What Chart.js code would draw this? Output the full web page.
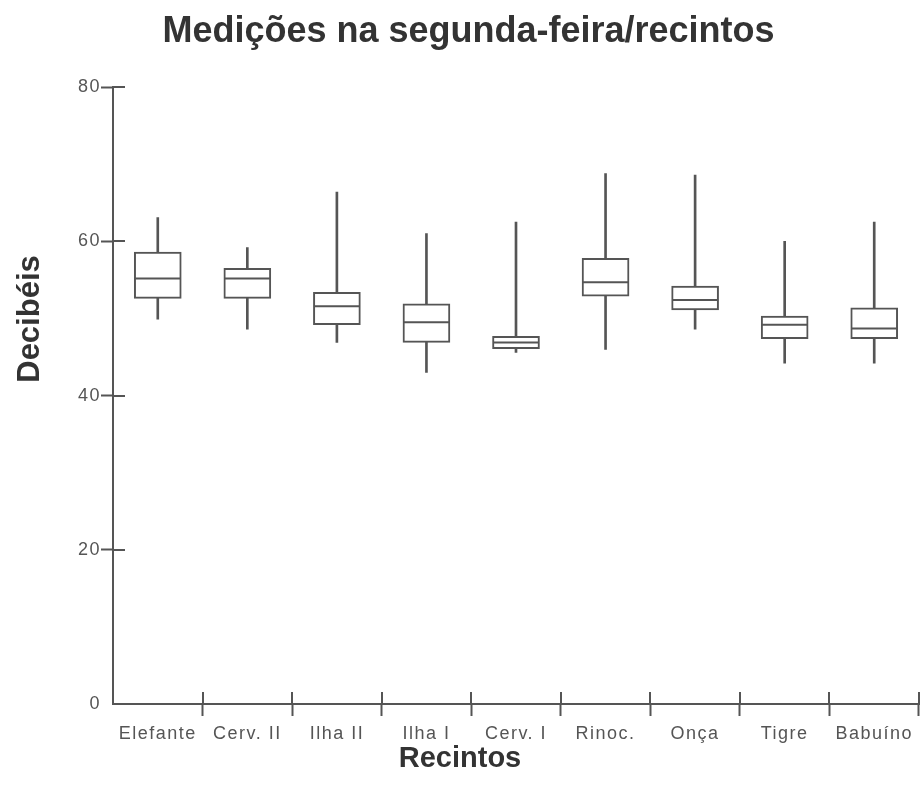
<!DOCTYPE html>
<html>
<head>
<meta charset="utf-8">
<script src="https://cdn.jsdelivr.net/npm/chart.js@4.4.1/dist/chart.umd.min.js"></script>
<style>
  html, body { margin: 0; padding: 0; background: #fff; }
  #wrap { width: 922px; height: 798px; position: relative; }
</style>
</head>
<body>
<div id="wrap"><canvas id="c" width="922" height="798"></canvas></div>
<script>
// ---- Data ----
const chartTitle = 'Medições na segunda-feira/recintos';
const xTitle = 'Recintos';
const yTitle = 'Decibéis';
const categories = ['Elefante', 'Cerv. II', 'Ilha II', 'Ilha I', 'Cerv. I', 'Rinoc.', 'Onça', 'Tigre', 'Babuíno'];
const minVals    = [49.9, 48.6, 46.9, 43.0, 45.6, 46.0, 48.6, 44.2, 44.2];
const q1Vals     = [52.6, 52.6, 49.2, 46.9, 46.1, 52.9, 51.1, 47.4, 47.4];
const medianVals = [55.2, 55.2, 51.6, 49.5, 46.9, 54.7, 52.4, 49.2, 48.7];
const q3Vals     = [58.6, 56.5, 53.4, 51.9, 47.7, 57.8, 54.2, 50.3, 51.4];
const maxVals    = [63.1, 59.2, 66.4, 61.0, 62.5, 68.8, 68.6, 60.0, 62.5];
const yTickValues = [0, 20, 40, 60, 80];

// ---- Styles ----
const LINE = '#555555';
const TEXT = '#333333';
const TICK_TEXT = '#555555';
const FONT = "'Liberation Sans', Arial, sans-serif";

const extrasPlugin = {
  id: 'extras',
  beforeDraw(chart) { chart.ctx.letterSpacing = '0px'; },
  afterDatasetsDraw(chart) { chart.ctx.letterSpacing = '1.5px'; },
  afterDraw(chart) {
    const ctx = chart.ctx;
    ctx.save();
    ctx.letterSpacing = '0px';
    const xs = chart.scales.x, ys = chart.scales.y, area = chart.chartArea;
    // inner halves of the crossing tick marks
    ctx.strokeStyle = LINE;
    ctx.lineWidth = 2;
    ctx.beginPath();
    ys.ticks.forEach(t => {
      if (t.value === 0) return;
      const py = Math.round(ys.getPixelForValue(t.value));
      ctx.moveTo(area.left, py);
      ctx.lineTo(area.left + 12, py);
    });
    for (let i = 1; i <= categories.length; i++) {
      const px = Math.round(xs.getPixelForValue(i - 0.5));
      ctx.moveTo(px, area.bottom);
      ctx.lineTo(px, area.bottom - 12);
    }
    ctx.stroke();
    // axis titles
    ctx.fillStyle = TEXT;
    ctx.textAlign = 'center';
    ctx.textBaseline = 'middle';
    ctx.font = "bold 29px " + FONT;
    ctx.fillText(xTitle, 460, 759);
    ctx.font = "bold 31px " + FONT;
    ctx.translate(30, 319);
    ctx.rotate(-Math.PI / 2);
    ctx.fillText(yTitle, 0, 0);
    ctx.restore();
    ctx.letterSpacing = '0px';
  }
};

new Chart(document.getElementById('c'), {
  type: 'bar',
  data: {
    labels: categories,
    datasets: [
      {
        label: 'whisker',
        data: categories.map((c, i) => [minVals[i], maxVals[i]]),
        backgroundColor: LINE,
        borderWidth: 0,
        barThickness: 2,
        grouped: false,
        order: 3
      },
      {
        label: 'box',
        data: categories.map((c, i) => [q1Vals[i], q3Vals[i]]),
        backgroundColor: '#ffffff',
        borderColor: LINE,
        borderWidth: 2,
        borderSkipped: false,
        barThickness: 47,
        grouped: false,
        order: 2
      },
      {
        type: 'line',
        label: 'median',
        data: medianVals,
        showLine: false,
        pointStyle: 'line',
        pointRadius: 23,
        pointBorderWidth: 2,
        pointBorderColor: LINE,
        pointBackgroundColor: LINE,
        order: 1
      }
    ]
  },
  options: {
    responsive: false,
    animation: false,
    events: [],
    layout: { autoPadding: false, padding: { left: 18, right: 3, top: 0, bottom: 0 } },
    plugins: {
      legend: { display: false },
      tooltip: { enabled: false },
      title: {
        display: true,
        text: chartTitle,
        color: TEXT,
        font: { family: FONT, size: 36, weight: 'bold', lineHeight: 1.2 },
        padding: { top: 10, bottom: 34 }
      }
    },
    scales: {
      x: {
        type: 'category',
        offset: true,
        afterFit(s) { s.height = 94; s.paddingLeft = 0; s.paddingRight = 0; },
        grid: {
          offset: true,
          drawOnChartArea: false,
          drawTicks: true,
          tickLength: 12,
          tickWidth: 2,
          tickColor: ctx => ctx.index === 0 ? 'rgba(0,0,0,0)' : LINE
        },
        border: { color: LINE, width: 2 },
        ticks: {
          z: 1,
          color: TICK_TEXT,
          font: { family: FONT, size: 18 },
          padding: 7,
          maxRotation: 0,
          autoSkip: false
        }
      },
      y: {
        min: 0,
        max: 80,
        afterFit(s) { s.width = 95; s.paddingTop = 0; s.paddingBottom = 0; },
        afterBuildTicks(s) { s.ticks = yTickValues.map(v => ({ value: v })); },
        grid: {
          drawOnChartArea: false,
          drawTicks: true,
          tickLength: 12,
          tickWidth: 2,
          tickColor: ctx => (ctx.tick && ctx.tick.value === 0) ? 'rgba(0,0,0,0)' : LINE
        },
        border: { color: LINE, width: 2 },
        ticks: {
          z: 1,
          color: TICK_TEXT,
          font: { family: FONT, size: 18 },
          padding: 0
        }
      }
    }
  },
  plugins: [extrasPlugin]
});
</script>
</body>
</html>
